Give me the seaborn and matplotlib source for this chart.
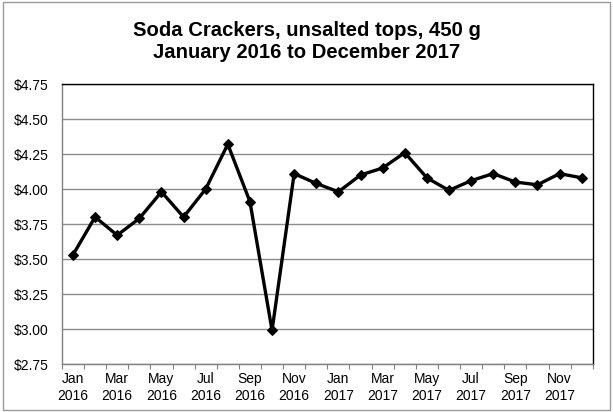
import matplotlib
matplotlib.use("Agg")
import matplotlib.pyplot as plt
import matplotlib.patches as mpatches
from matplotlib.ticker import FixedLocator, FuncFormatter
import seaborn as sns
import pandas as pd

months = ["Jan", "Feb", "Mar", "Apr", "May", "Jun",
          "Jul", "Aug", "Sep", "Oct", "Nov", "Dec"]
years = ["2016", "2017"]
prices = [3.53, 3.80, 3.67, 3.79, 3.98, 3.80, 4.00, 4.32, 3.91, 2.99, 4.11, 4.04,
          3.98, 4.10, 4.15, 4.26, 4.08, 3.99, 4.06, 4.11, 4.05, 4.03, 4.11, 4.08]
y_ticks = [2.75, 3.00, 3.25, 3.50, 3.75, 4.00, 4.25, 4.50, 4.75]
title_lines = ["Soda Crackers, unsalted tops, 450 g", "January 2016 to December 2017"]

labels = [f"{m}\n{y}" for y in years for m in months]
df = pd.DataFrame({"idx": range(len(prices)), "price": prices, "label": labels})

sns.set_theme(style="white")
plt.rcParams["font.family"] = ["Liberation Sans", "DejaVu Sans"]
plt.rcParams["text.color"] = "black"
plt.rcParams["xtick.color"] = "black"
plt.rcParams["ytick.color"] = "black"

fig = plt.figure(figsize=(6.13, 4.12), dpi=100)
ax = fig.add_axes([0.101, 0.1165, 0.866, 0.6795])

sns.lineplot(data=df, x="idx", y="price", ax=ax, color="black", linewidth=2.4,
             marker="D", markersize=5.5, markeredgecolor="black",
             markerfacecolor="black")

ax.set_xlim(-0.5, len(prices) - 0.5)
ax.set_ylim(y_ticks[0], y_ticks[-1])
ax.set_yticks(y_ticks)
ax.yaxis.set_major_formatter(FuncFormatter(lambda v, p: f"${v:.2f}"))
ax.grid(axis="y", color="#8c8c8c", linewidth=1.0)
ax.set_axisbelow(True)

# labels every other month at the category centres, tick marks on boundaries
ax.xaxis.set_major_locator(FixedLocator(list(range(0, len(prices), 2))))
ax.set_xticklabels(labels[::2])
ax.xaxis.set_minor_locator(FixedLocator([i - 0.5 for i in range(len(prices) + 1)]))
ax.tick_params(axis="x", which="major", length=0, pad=6, labelsize=10, labelcolor="black")
ax.tick_params(axis="x", which="minor", length=3.5, width=0.8, color="#808080", bottom=True)
ax.tick_params(axis="y", which="major", length=0, labelsize=10, labelcolor="black", pad=9.5)

ax.set_xlabel("")
ax.set_ylabel("")

for side in ["top", "right"]:
    ax.spines[side].set_color("black")
    ax.spines[side].set_linewidth(1.0)
for side in ["left", "bottom"]:
    ax.spines[side].set_color("#808080")
    ax.spines[side].set_linewidth(1.0)

fig.text(0.5, 1 - 36 / 412, title_lines[0], ha="center", va="baseline",
         fontsize=14.6, fontweight="bold", color="black")
fig.text(0.5, 1 - 58 / 412, title_lines[1], ha="center", va="baseline",
         fontsize=14.6, fontweight="bold", color="black")

fig.patches.append(mpatches.Rectangle((0.005, 0.005), 0.99, 0.99, transform=fig.transFigure,
                                      fill=False, edgecolor="#9a9a9a", linewidth=1.0))

fig.savefig("out.png", dpi=100, facecolor="white")
